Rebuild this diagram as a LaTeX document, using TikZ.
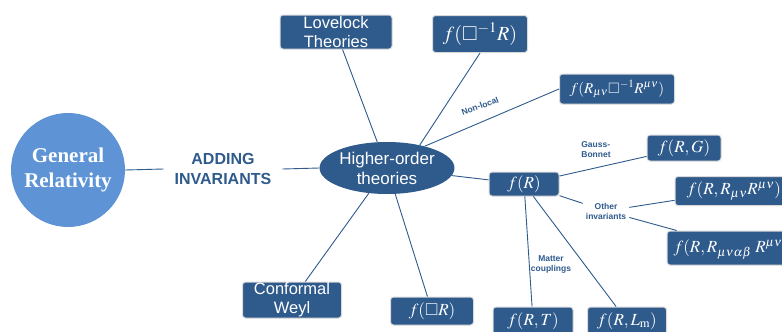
\documentclass[tikz,border=0pt]{standalone}
\usepackage{amssymb}
\usepackage{mathptmx}
\usepackage{fontspec}
\setmainfont{Liberation Serif}
\setsansfont{Liberation Sans}
\usetikzlibrary{shapes.geometric}
\definecolor{navy}{RGB}{46,90,140}
\definecolor{grblue}{RGB}{94,148,214}

\begin{document}
\begin{tikzpicture}[x=1pt,y=-1pt,
  gr/.style={circle,fill=grblue,text=white,inner sep=0pt,minimum size=114pt,
    align=center,font=\fontsize{21}{25}\selectfont\bfseries},
  hub/.style={ellipse,fill=navy,text=white,inner sep=0pt,minimum width=115pt,
    minimum height=52pt,align=center,font=\sffamily\fontsize{17}{20}\selectfont},
  box/.style={rounded corners=3pt,fill=navy,draw=black!15,line width=1pt,text=white,
    inner sep=0pt,align=center,font=\sffamily\fontsize{16.5}{19}\selectfont},
  mbox/.style={box,font=\fontsize{17}{20}\selectfont},
  desc/.style={text=navy,inner sep=1pt,align=center,font=\sffamily\bfseries\fontsize{8.5}{10}\selectfont},
  link/.style={draw=navy,line width=0.9pt}
]
  \useasboundingbox (0,0) rectangle (782,332);

  \node (rel) at (68,170) [gr] {General\\Relativity};
  \node (add) at (223,169) [text=navy,inner sep=11pt,align=center,
    font=\sffamily\bfseries\fontsize{16}{20}\selectfont] {ADDING\\INVARIANTS};
  \node (hub) at (387,168) [hub] {Higher-order\\theories};

  % boxes round the hub
  \node (love) at (336,32) [box,minimum width=112pt,minimum height=34pt] {Lovelock\\Theories};
  \node (nla) at (480,34) [mbox,minimum width=95pt,minimum height=37pt,
    font=\fontsize{20}{24}\selectfont] {$f(\square^{-1}R)$};
  \node (nlb) at (617,89) [mbox,minimum width=115pt,minimum height=30pt,
    font=\fontsize{15}{18}\selectfont] {$f(R_{\mu\nu}\square^{-1}R^{\mu\nu})$};
  \node (fr) at (524,184) [mbox,minimum width=70pt,minimum height=24pt] {$f(R)$};
  \node (weyl) at (292,300) [box,minimum width=99pt,minimum height=36pt] {Conformal\\Weyl};
  \node (fbr) at (432,311) [mbox,minimum width=83pt,minimum height=28pt] {$f(\square R)$};

  % boxes round f(R)
  \node (frg) at (684,148) [mbox,minimum width=74pt,minimum height=26pt] {$f(R,G)$};
  \node (frr) at (734,191) [mbox,minimum width=118pt,minimum height=29pt] {$f(R,R_{\mu\nu}R^{\mu\nu})$};
  \node (frq) at (740,248) [mbox,minimum width=146pt,minimum height=34pt]
    {$f(R,R_{\mu\nu\alpha\beta}\;R^{\mu\nu\alpha\beta})$};
  \node (frt) at (533,321) [mbox,minimum width=80pt,minimum height=28pt] {$f(R,T)$};
  \node (frl) at (627,321) [mbox,minimum width=79pt,minimum height=28pt] {$f(R,L_{\mathrm{m}})$};

  % labels
  \node (nonloc) at (480,106) [desc,rotate=20] {Non-local};
  \node (gb) at (596,150) [desc,align=left] {Gauss-\\Bonnet};
  \node (oth) at (606,211) [desc,inner sep=3pt] {Other\\invariants};
  \node (mat) at (551,264) [desc] {Matter\\couplings};

  \draw [link] (rel.east) -- (add.west);
  \draw [link] (add.east) -- (hub.west);
  \draw [link] (love) -- (hub);
  \draw [link] (nla.south) -- (hub.35);
  \draw [link] (nlb.west) -- (hub.30);
  \draw [link] (hub) -- (fr);
  \draw [link] (weyl) -- (hub);
  \draw [link] (fbr) -- (hub);
  \draw [link] (fr) -- (frg);
  \draw [link] (fr) -- (oth);
  \draw [link] (oth) -- (frr);
  \draw [link] (oth) -- (frq);
  \draw [link] (fr) -- (frt);
  \draw [link] (fr) -- (frl);
\end{tikzpicture}
\end{document}
